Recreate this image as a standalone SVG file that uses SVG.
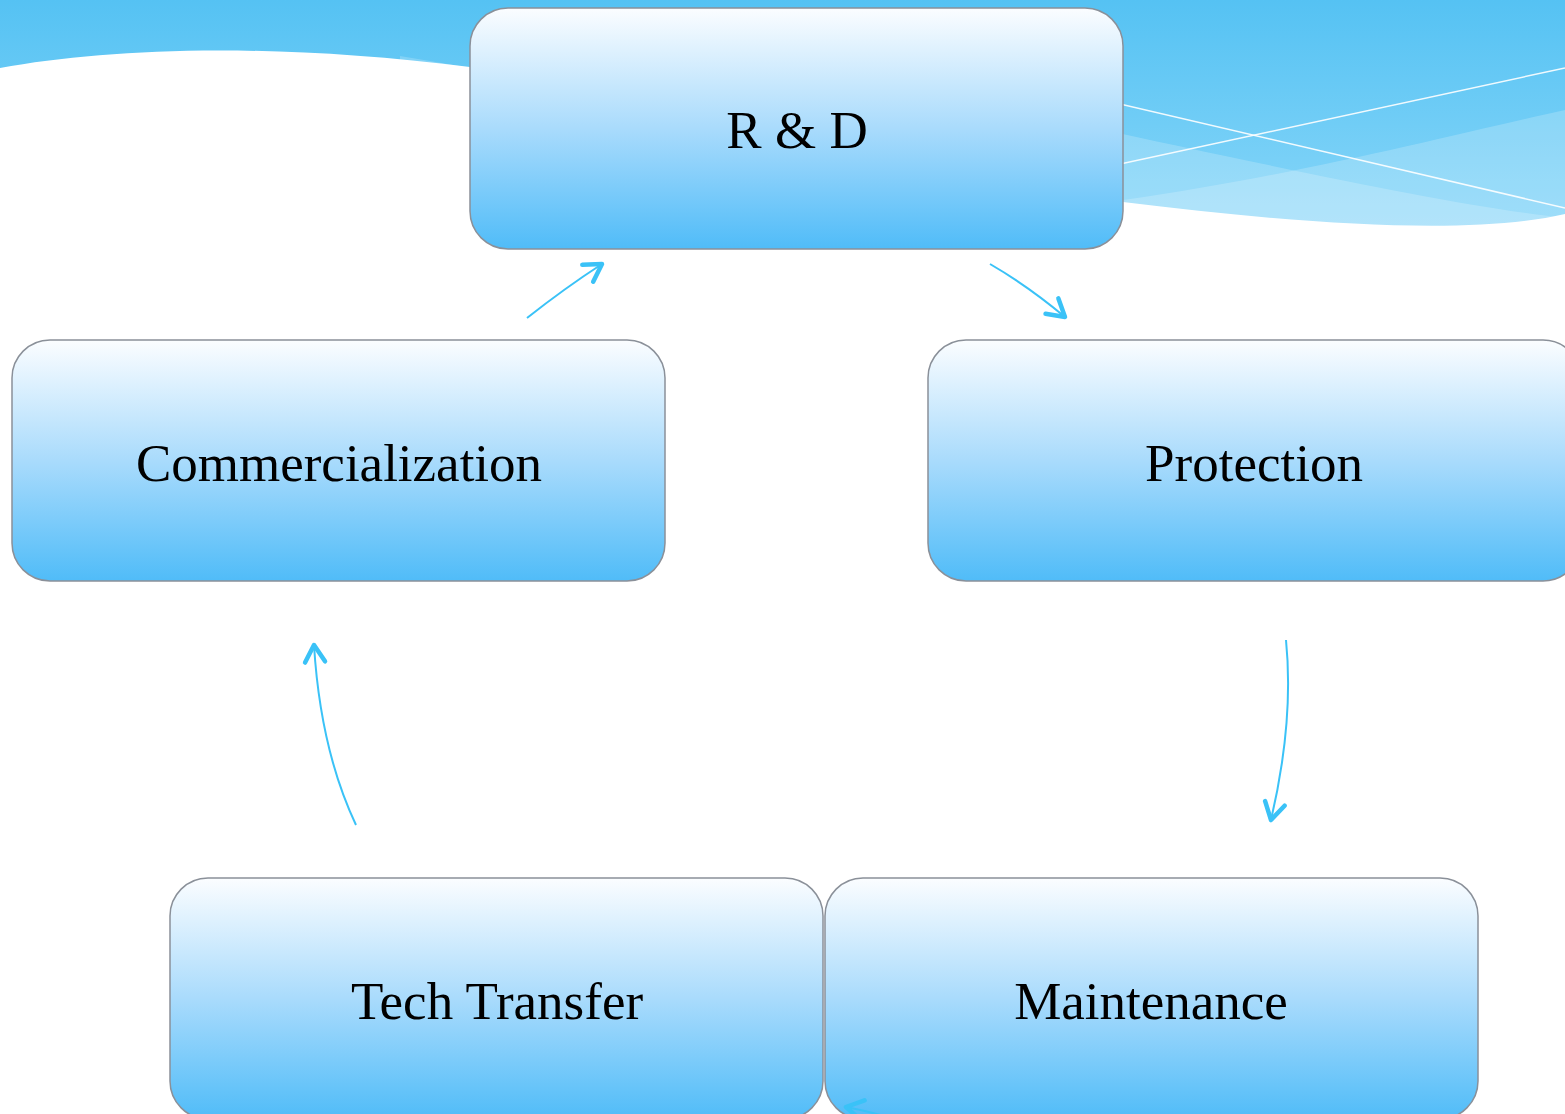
<svg xmlns="http://www.w3.org/2000/svg" width="1565" height="1114" viewBox="0 0 1565 1114">
<style>
.node rect{fill:url(#ng);stroke:#8a9099;stroke-width:1.5}
.node text{font-family:"Liberation Serif","Times New Roman",serif;font-size:53px;fill:#000;text-anchor:middle}
.conn path{fill:none;stroke:#3ac2f7;stroke-width:2;marker-end:url(#ah)}
.wl{fill:none;stroke:#fff;stroke-width:1.5;opacity:0.9}
</style>
<defs>
<linearGradient id="ng" x1="0" y1="0" x2="0" y2="1">
<stop offset="0" stop-color="#fbfdff"/>
<stop offset="0.5" stop-color="#a9dbfc"/>
<stop offset="1" stop-color="#50bcf8"/>
</linearGradient>
<linearGradient id="bg" x1="0" y1="0" x2="0" y2="240" gradientUnits="userSpaceOnUse">
<stop offset="0" stop-color="#55c2f3"/>
<stop offset="1" stop-color="#8ad7f9"/>
</linearGradient>
<marker id="ah" markerUnits="userSpaceOnUse" markerWidth="40" markerHeight="40" viewBox="-25 -20 40 40" refX="0" refY="0" orient="auto" overflow="visible">
<path d="M-17,-10 L0,0 L-17,10" fill="none" stroke="#3ac2f7" stroke-width="4.5" stroke-linecap="round" stroke-linejoin="round"/>
</marker>
</defs>
<g id="background">
<rect x="0" y="0" width="1565" height="240" fill="url(#bg)"/>
<path d="M400,56 C800,120 1000,215 1123,200 C1300,175 1450,135 1565,110 L1565,240 L400,240 Z" fill="#fff" opacity="0.2"/>
<path d="M1080,125 C1300,172 1450,205 1565,218 L1565,240 L1080,240 Z" fill="#fff" opacity="0.2"/>
<path class="wl" d="M1060,90 L1565,208"/>
<path class="wl" d="M1060,177 L1565,68"/>
<path d="M0,68 C110,48 270,42 470,67 C700,100 950,185 1123,202 C1300,224 1470,236 1565,214 L1565,1114 L0,1114 Z" fill="#fff"/>
</g>
<g id="rd" class="node">
<rect x="470" y="8" width="653" height="241" rx="38"/>
<text x="797" y="148">R &amp; D</text>
</g>
<g id="commercialization" class="node">
<rect x="12" y="340" width="653" height="241" rx="38"/>
<text x="339" y="481">Commercialization</text>
</g>
<g id="protection" class="node">
<rect x="928" y="340" width="653" height="241" rx="38"/>
<text x="1254" y="481">Protection</text>
</g>
<g id="techtransfer" class="node">
<rect x="170" y="878" width="653" height="241" rx="38"/>
<text x="497" y="1019">Tech Transfer</text>
</g>
<g id="maintenance" class="node">
<rect x="825" y="878" width="653" height="241" rx="38"/>
<text x="1151" y="1019">Maintenance</text>
</g>
<g id="connectors" class="conn">
<path d="M527,318 Q565,288 602,264"/>
<path d="M990,264 Q1028,286 1065,317"/>
<path d="M1286,640 C1292,700 1285,760 1271,820"/>
<path d="M356,825 C330,770 318,710 314,645"/>
<path d="M905,1122 Q872,1112 846,1107"/>
</g>
</svg>
